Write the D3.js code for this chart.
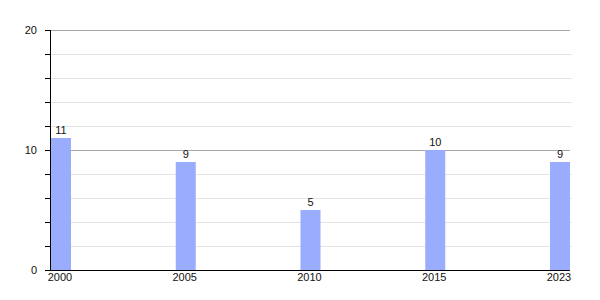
<!DOCTYPE html>
<html>
<head>
<meta charset="utf-8">
<script src="https://cdn.jsdelivr.net/npm/d3@7"></script>
<style>
  body { margin: 0; background: #fff; }
  text { font-family: "Liberation Sans", Arial, sans-serif; font-size: 11px; fill: #111; }
</style>
</head>
<body>
<svg id="chart" width="600" height="300"></svg>
<script>
const years = ['2000', '2005', '2010', '2015', '2023']
const values = [11, 9, 5, 10, 9]
const majorTicks = [0, 10, 20]
const minorTicks = [2, 4, 6, 8, 12, 14, 16, 18]

const width = 600
const height = 300
const margin = { top: 30, right: 30, bottom: 30, left: 50 }
const barWidth = 20

const svg = d3.select('#chart')

const x = d3
  .scalePoint()
  .domain(years)
  .range([margin.left + barWidth / 2 + 1, width - margin.right - barWidth / 2])

const y = d3
  .scaleLinear()
  .domain([0, 20])
  .range([height - margin.bottom, margin.top])

// gridlines
svg
  .append('g')
  .selectAll('line')
  .data(minorTicks)
  .enter()
  .append('line')
  .attr('x1', margin.left)
  .attr('x2', width - margin.right + 2)
  .attr('y1', (d) => y(d) + 0.5)
  .attr('y2', (d) => y(d) + 0.5)
  .attr('stroke', '#e4e4e4')

svg
  .append('g')
  .selectAll('line')
  .data(majorTicks.filter((d) => d > 0))
  .enter()
  .append('line')
  .attr('x1', margin.left)
  .attr('x2', width - margin.right)
  .attr('y1', (d) => y(d) + 0.5)
  .attr('y2', (d) => y(d) + 0.5)
  .attr('stroke', '#a8a8a8')

// bars
svg
  .append('g')
  .selectAll('rect')
  .data(values)
  .enter()
  .append('rect')
  .attr('x', (d, i) => x(years[i]) - barWidth / 2)
  .attr('y', (d) => y(d))
  .attr('width', barWidth)
  .attr('height', (d) => y(0) - y(d))
  .attr('fill', '#9aacfd')

// bar labels
svg
  .append('g')
  .selectAll('text')
  .data(values)
  .enter()
  .append('text')
  .attr('x', (d, i) => x(years[i]))
  .attr('y', (d) => y(d) - 4)
  .attr('text-anchor', 'middle')
  .text((d) => d)

// y axis
const yAxis = svg.append('g')
yAxis
  .append('line')
  .attr('x1', margin.left + 0.5)
  .attr('x2', margin.left + 0.5)
  .attr('y1', y(20))
  .attr('y2', y(0))
  .attr('stroke', '#000')

yAxis
  .selectAll('line.tick')
  .data(majorTicks.concat(minorTicks))
  .enter()
  .append('line')
  .attr('class', 'tick')
  .attr('x1', margin.left - 5)
  .attr('x2', margin.left)
  .attr('y1', (d) => y(d) + 0.5)
  .attr('y2', (d) => y(d) + 0.5)
  .attr('stroke', '#000')

yAxis
  .selectAll('text')
  .data(majorTicks)
  .enter()
  .append('text')
  .attr('x', margin.left - 13)
  .attr('y', (d) => y(d) + 4)
  .attr('text-anchor', 'end')
  .text((d) => d)

// x axis
const xAxis = svg.append('g')
xAxis
  .append('line')
  .attr('x1', margin.left)
  .attr('x2', width - margin.right)
  .attr('y1', y(0) + 0.5)
  .attr('y2', y(0) + 0.5)
  .attr('stroke', '#000')

xAxis
  .selectAll('text')
  .data(years)
  .enter()
  .append('text')
  .attr('x', (d) => x(d) - 1)
  .attr('y', y(0) + 11)
  .attr('text-anchor', 'middle')
  .text((d) => d)
</script>
</body>
</html>
